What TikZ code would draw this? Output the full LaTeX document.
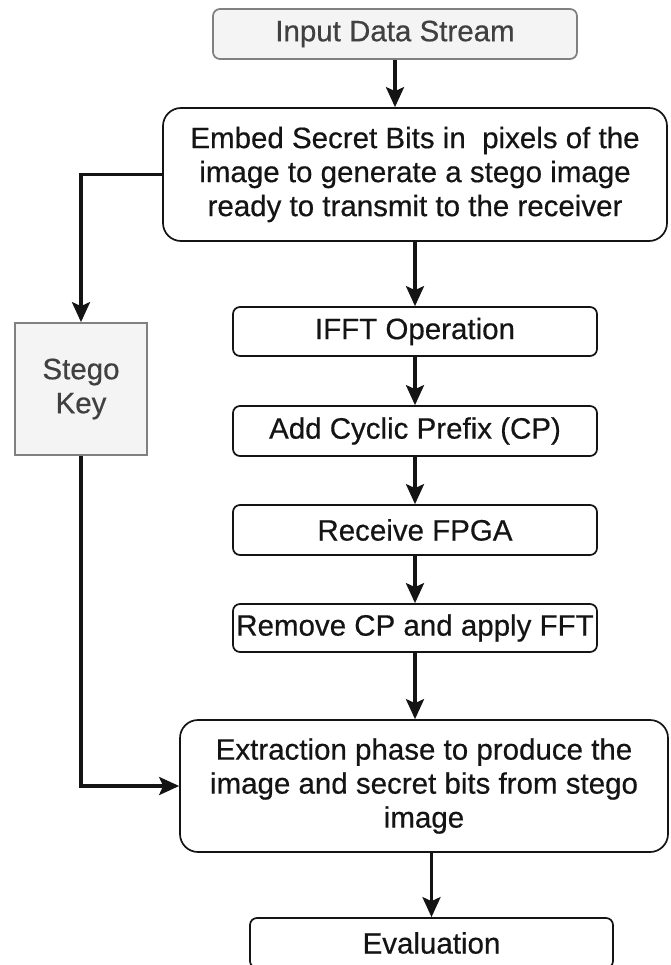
\documentclass[tikz,border=0pt]{standalone}
\usepackage{fontspec}
\setmainfont{Liberation Sans}[FakeBold=0.5]
\usetikzlibrary{arrows.meta}
\definecolor{graytext}{HTML}{404040}
\definecolor{grayfill}{HTML}{F4F4F4}
\definecolor{grayline}{HTML}{808080}
\definecolor{ink}{HTML}{141414}
\begin{document}
\begin{tikzpicture}[x=1pt,y=-1pt,
  box/.style={draw=ink, line width=1.7pt, rounded corners=7pt, inner sep=0pt,
    align=center, text=ink, font=\fontsize{29.5}{34}\selectfont},
  bigbox/.style={box, rounded corners=18pt},
  inbox/.style={box, draw=grayline, fill=grayfill, text=graytext},
  keybox/.style={box, rounded corners=0pt, draw=grayline, fill=grayfill, text=graytext},
  arr/.style={draw=ink, line width=3.4pt, -{Stealth[length=20pt,width=18pt,inset=4pt]}}]
\useasboundingbox (0,0) rectangle (670,965);
\node[inbox, minimum width=364pt, minimum height=50pt] (in) at (395,34) {Input Data Stream};
\node[bigbox, minimum width=504pt, minimum height=133pt] (emb) at (415,174.5)
  {Embed Secret Bits in \ pixels of the\\image to generate a stego image\\ready to transmit to the receiver};
\node[box, minimum width=364pt, minimum height=49pt] (ifft) at (415,331.5) {IFFT Operation};
\node[box, minimum width=364pt, minimum height=50pt] (cp) at (415,431) {Add Cyclic Prefix (CP)};
\node[box, minimum width=364pt, minimum height=50pt] (rcv) at (415,530) {Receive FPGA};
\node[box, minimum width=364pt, minimum height=48pt] (rem) at (415,628) {Remove CP and apply FFT};
\node[keybox, minimum width=132pt, minimum height=132pt] (key) at (81,389) {Stego\\Key};
\node[bigbox, minimum width=488pt, minimum height=132pt] (ext) at (424,786)
  {Extraction phase to produce the\\image and secret bits from stego\\image};
\node[box, minimum width=363pt, minimum height=50pt] (eval) at (431.5,943) {Evaluation};
\draw[arr] (in.south) -- (in.south |- emb.north);
\draw[arr] (emb.south) -- (ifft.north);
\draw[arr] (ifft.south) -- (cp.north);
\draw[arr] (cp.south) -- (rcv.north);
\draw[arr] (rcv.south) -- (rem.north);
\draw[arr] (rem.south) -- (rem.south |- ext.north);
\draw[arr] (eval.north |- ext.south) -- (eval.north);
\draw[arr] (emb.west) -| (key.north);
\draw[arr] (key.south) |- (ext.west);
\end{tikzpicture}
\end{document}
